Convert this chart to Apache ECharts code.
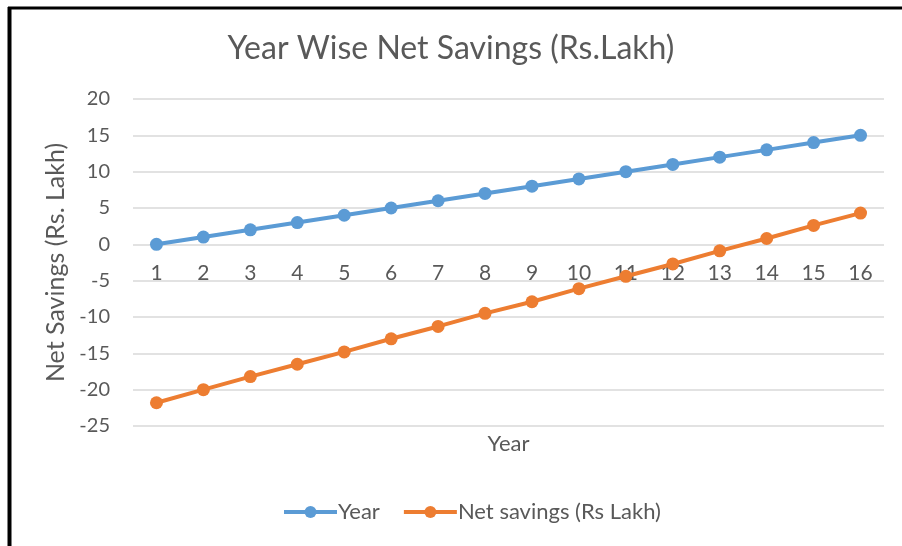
<!DOCTYPE html>
<html><head><meta charset="utf-8">
<script src="https://cdn.jsdelivr.net/npm/echarts@6/dist/echarts.min.js"></script>
<style>html,body{margin:0;padding:0;background:#fff}#c{width:902px;height:546px}</style>
</head><body><div id="c"></div>
<script>
const categories = ['1','2','3','4','5','6','7','8','9','10','11','12','13','14','15','16'];
const yearValues = [0,1,2,3,4,5,6,7,8,9,10,11,12,13,14,15];
const netSavings = [-21.8,-20.0,-18.2,-16.5,-14.8,-13.0,-11.3,-9.5,-7.9,-6.1,-4.4,-2.7,-0.9,0.8,2.6,4.3];
const seriesNames = ['Year','Net savings (Rs Lakh)'];
const titleText = 'Year Wise Net Savings (Rs.Lakh)';

const FONT = 'Lato';
const chart = echarts.init(document.getElementById('c'), null, {renderer:'canvas'});
chart.setOption({
  animation:false,
  backgroundColor:'#fff',
  title:{text:titleText,left:'center',top:28,textStyle:{fontFamily:FONT,fontSize:32,fontWeight:'normal',color:'#595959'}},
  grid:{left:133,right:18,top:99,bottom:120,containLabel:false,outerBoundsMode:'none'},
  legend:{bottom:18,left:277,itemWidth:53,itemHeight:15,itemGap:22,
    lineStyle:{width:4},
    textStyle:{fontFamily:FONT,fontSize:22,color:'#595959',padding:[0,0,0,-4]},
    data:seriesNames},
  xAxis:{type:'category',data:categories,boundaryGap:true,name:'Year',nameLocation:'middle',nameGap:189,
    offset:-182,
    nameTextStyle:{fontFamily:FONT,fontSize:22,color:'#595959'},
    axisLine:{show:false},axisTick:{show:false},
    axisLabel:{margin:19,fontFamily:FONT,fontSize:21,color:'#595959'}},
  yAxis:{type:'value',min:-25,max:20,interval:5,name:'Net Savings (Rs. Lakh)',nameLocation:'middle',nameGap:64,
    nameTextStyle:{fontFamily:FONT,fontSize:25,color:'#595959'},
    axisLine:{show:false},axisTick:{show:false},
    axisLabel:{margin:23,fontFamily:FONT,fontSize:20,color:'#595959'},
    splitLine:{lineStyle:{color:'#d9d9d9',width:1.5}}},
  series:[
    {name:seriesNames[0],type:'line',data:yearValues,symbol:'circle',symbolSize:13,
      lineStyle:{color:'#5b9bd5',width:4},itemStyle:{color:'#5b9bd5'}},
    {name:seriesNames[1],type:'line',data:netSavings,symbol:'circle',symbolSize:13,
      lineStyle:{color:'#ed7d31',width:4},itemStyle:{color:'#ed7d31'}}
  ],
  graphic:[
    {type:'line',shape:{x1:9.5,y1:7,x2:9.5,y2:546},style:{stroke:'#000',lineWidth:4}},
    {type:'line',shape:{x1:8,y1:8,x2:902,y2:8},style:{stroke:'#000',lineWidth:3}}
  ]
});
</script></body></html>
